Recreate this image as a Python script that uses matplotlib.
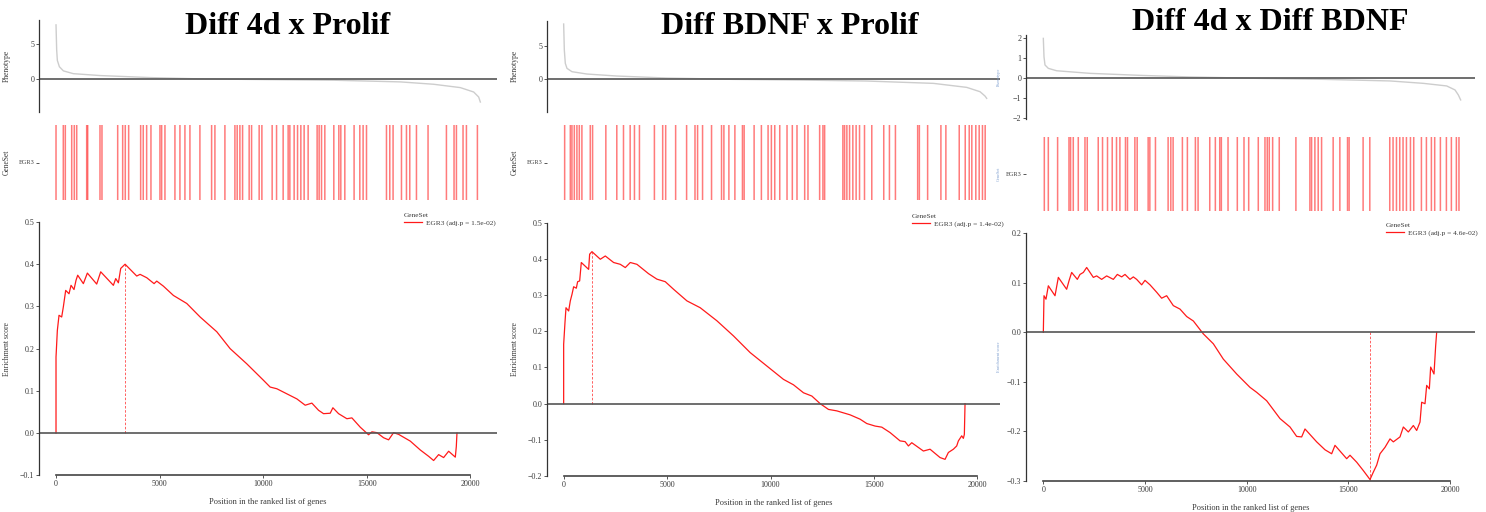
import matplotlib.pyplot as plt

W, H = 1486, 512
plt.rcParams['font.family'] = ['Liberation Serif', 'DejaVu Serif']

TEXT = '#3a3a3a'
RED = '#ff1a1a'

# ---- values ----
titles = ["Diff 4d x Prolif", "Diff BDNF x Prolif", "Diff 4d x Diff BDNF"]
gene_set = "EGR3"
adj_p = ["1.5e-02", "1.4e-02", "4.6e-02"]

# ranked list metric (phenotype)
rank_pos_1 = [0, 30, 61, 153, 336, 793, 2013, 4300, 6588, 9638, 12688, 15738, 17263, 18483, 19093, 19322, 19398]
rank_val_1 = [7.8, 4.2, 2.7, 1.8, 1.2, 0.8, 0.53, 0.24, 0.05, -0.05, -0.14, -0.38, -0.72, -1.2, -1.83, -2.55, -3.27]
rank_pos_2 = [0, 31, 76, 153, 382, 1070, 2445, 4737, 7793, 10849, 13905, 16961, 18489, 19100, 19329, 19406]
rank_val_2 = [8.3, 4.4, 2.4, 1.65, 1.15, 0.8, 0.5, 0.2, 0.0, -0.1, -0.25, -0.6, -1.2, -1.85, -2.5, -2.85]
rank_pos_3 = [0, 31, 77, 232, 618, 2163, 4481, 6798, 9888, 12978, 16068, 17613, 18695, 19081, 19235, 19343]
rank_val_3 = [2.0, 1.08, 0.67, 0.5, 0.38, 0.25, 0.15, 0.07, 0.0, -0.05, -0.13, -0.25, -0.38, -0.58, -0.83, -1.08]

# positions of gene-set members in the ranked list
hits_1 = [0, 333, 425, 717, 836, 946, 1402, 1448, 2010, 2101, 2819, 3047, 3166, 3321, 3869, 3988,
          4143, 4340, 4751, 4829, 4980, 5436, 5665, 5893, 6122, 6578, 7113, 7264, 7721, 8178, 8282,
          8406, 8529, 8830, 8940, 9287, 9411, 9881, 10082, 10384, 10612, 10690, 10886, 11042, 11192,
          11343, 11526, 11937, 12029, 12138, 12289, 12700, 12929, 13020, 13203, 13627, 13888, 14039,
          14194, 15107, 15258, 15409, 15793, 16021, 16172, 16478, 17008, 17848, 18196, 18305, 18607,
          18762, 19264]
hits_2 = [46, 306, 380, 489, 608, 718, 837, 1221, 1327, 1935, 2438, 2745, 3051, 3248, 3477, 4163,
          4543, 4680, 5137, 5640, 6025, 6144, 6372, 6784, 7242, 7351, 7580, 7855, 8202, 8280, 8737,
          9071, 9378, 9529, 9684, 9913, 10247, 10490, 10704, 11057, 11208, 11743, 11894, 11972, 12809,
          12887, 12992, 13116, 13266, 13417, 13573, 13801, 14135, 14684, 14945, 15220, 16240, 16318,
          16697, 17306, 17534, 18147, 18422, 18605, 18724, 18907, 19062, 19213, 19337]
hits_3 = [46, 231, 662, 1189, 1263, 1388, 1620, 1930, 2036, 2545, 2744, 2975, 3193, 3392, 3549, 3808,
          3901, 4243, 4350, 4859, 4937, 5197, 5784, 5909, 6016, 6446, 6677, 7048, 7173, 7714, 7973,
          8177, 8251, 8561, 8991, 9301, 9519, 9963, 10273, 10379, 10472, 10629, 10935, 11707, 12355,
          12434, 12587, 12740, 12897, 13434, 13744, 14100, 14174, 14822, 15132, 16057, 16210, 16368,
          16520, 16673, 16830, 17016, 17168, 17524, 17756, 17987, 18140, 18404, 18682, 18913, 19144,
          19265]

# running enrichment score
es_pos_1 = [0, 0, 64, 145, 274, 354, 467, 628, 725, 869, 966, 1047, 1320, 1513, 1964, 2157, 2769,
            2882, 3011, 3123, 3333, 3896, 4057, 4379, 4733, 4862, 5184, 5667, 6311, 6955, 7760, 8404,
            9209, 10014, 10336, 10658, 11302, 11624, 12027, 12349, 12671, 12912, 13234, 13363, 13637,
            14039, 14281, 14683, 15086, 15247, 15488, 15810, 16052, 16293, 16535, 17098, 17581, 17984,
            18225, 18467, 18708, 18950, 19272, 19320, 19352]
es_val_1 = [0, 0.180, 0.243, 0.279, 0.275, 0.299, 0.338, 0.330, 0.350, 0.340, 0.362, 0.374, 0.354,
            0.379, 0.353, 0.382, 0.350, 0.366, 0.356, 0.390, 0.400, 0.372, 0.376, 0.368, 0.354, 0.360,
            0.348, 0.326, 0.307, 0.275, 0.240, 0.200, 0.164, 0.125, 0.109, 0.105, 0.089, 0.081, 0.066,
            0.071, 0.054, 0.046, 0.047, 0.060, 0.046, 0.034, 0.036, 0.014, -0.004, 0.003, 0.001, -0.011,
            -0.016, 0.001, -0.003, -0.019, -0.040, -0.055, -0.065, -0.051, -0.058, -0.043, -0.057,
            -0.032, 0.0]
es_pos_2 = [0, 0, 64, 113, 242, 322, 403, 483, 612, 676, 773, 853, 1208, 1256, 1369, 1771, 2013, 2415,
            2737, 2979, 3220, 3542, 4106, 4508, 4911, 5313, 5957, 6601, 7406, 8211, 9016, 9821, 10626,
            11109, 11592, 11995, 12397, 12800, 13202, 13846, 14329, 14651, 15054, 15376, 15778, 16261,
            16503, 16664, 16825, 17388, 17710, 18193, 18435, 18596, 18837, 18998, 19079, 19240, 19320,
            19368, 19401]
es_val_2 = [0, 0.164, 0.224, 0.265, 0.256, 0.284, 0.302, 0.323, 0.319, 0.337, 0.339, 0.390, 0.371,
            0.413, 0.420, 0.399, 0.408, 0.390, 0.385, 0.376, 0.390, 0.385, 0.359, 0.344, 0.337, 0.316,
            0.284, 0.265, 0.229, 0.187, 0.141, 0.104, 0.067, 0.052, 0.030, 0.021, 0.000, -0.016, -0.020,
            -0.031, -0.043, -0.055, -0.062, -0.065, -0.080, -0.103, -0.105, -0.117, -0.108, -0.131,
            -0.126, -0.149, -0.154, -0.135, -0.126, -0.117, -0.103, -0.089, -0.096, -0.085, 0.0]
es_pos_3 = [0, 33, 131, 246, 574, 738, 1147, 1262, 1393, 1672, 1803, 1967, 2131, 2459, 2622, 2868,
            3114, 3442, 3639, 3852, 4016, 4261, 4425, 4589, 4835, 4999, 5245, 5573, 5818, 6064, 6392,
            6720, 7048, 7376, 7867, 8359, 8851, 9506, 10162, 10490, 10981, 11637, 12129, 12456, 12702,
            12866, 13440, 13850, 14177, 14341, 14915, 15079, 15407, 15734, 16062, 16226, 16390, 16554,
            16800, 17046, 17210, 17537, 17701, 17947, 18193, 18357, 18521, 18603, 18767, 18849, 18980,
            19045, 19209, 19291, 19340]
es_val_3 = [0, 0.074, 0.067, 0.094, 0.074, 0.111, 0.087, 0.104, 0.121, 0.107, 0.117, 0.121, 0.131,
            0.111, 0.114, 0.107, 0.114, 0.107, 0.117, 0.112, 0.117, 0.107, 0.112, 0.107, 0.096, 0.105,
            0.096, 0.081, 0.069, 0.074, 0.054, 0.047, 0.032, 0.023, -0.003, -0.023, -0.054, -0.084,
            -0.111, -0.121, -0.138, -0.174, -0.191, -0.210, -0.211, -0.195, -0.221, -0.237, -0.245,
            -0.228, -0.255, -0.248, -0.262, -0.279, -0.297, -0.282, -0.268, -0.245, -0.232, -0.215,
            -0.221, -0.211, -0.191, -0.201, -0.188, -0.198, -0.181, -0.141, -0.144, -0.107, -0.114,
            -0.070, -0.084, -0.027, 0.0]

# position of the leading-edge extreme (dashed marker)
peak_pos = [3333, 1369, 16062]
peak_val = [0.400, 0.420, -0.297]

rank_pos = [rank_pos_1, rank_pos_2, rank_pos_3]
rank_val = [rank_val_1, rank_val_2, rank_val_3]
hits = [hits_1, hits_2, hits_3]
es_pos = [es_pos_1, es_pos_2, es_pos_3]
es_val = [es_val_1, es_val_2, es_val_3]

# ---- layout in pixels (left, top, right, bottom) ----
LAYOUT = [
    dict(pheno=(39, 20, 497, 112), rug=(39, 125, 497, 200), es=(39, 222, 497, 475.3),
         top_xlim=(-778, 20160), es_xlim=(-821, 21284),
         pheno_ylim=(-4.7, 8.5), pheno_ticks=[0, 5], es_ylim=(-0.1, 0.5),
         title_xy=(288, 27), legend_xy=(404, 213), label_x=11, label_col=TEXT, label_fs=5.5),
    dict(pheno=(547, 20.7, 1000, 111.7), rug=(547, 125, 1000, 200), es=(547, 222.7, 1000, 476),
         top_xlim=(-764, 20017), es_xlim=(-805, 21091),
         pheno_ylim=(-4.85, 8.8), pheno_ticks=[0, 5], es_ylim=(-0.2, 0.5),
         title_xy=(790, 27), legend_xy=(912, 214), label_x=519, label_col=TEXT, label_fs=5.5),
    dict(pheno=(1026, 35, 1475, 119.3), rug=(1026, 137, 1475, 211), es=(1026, 233.3, 1475, 481),
         top_xlim=(-803, 20008), es_xlim=(-852, 21225),
         pheno_ylim=(-2.05, 2.17), pheno_ticks=[-2, -1, 0, 1, 2], es_ylim=(-0.3, 0.2),
         title_xy=(1270, 22), legend_xy=(1386, 223), label_x=1001, label_col='#7f9fd0', label_fs=3.2),
]


def fig_box(l, t, r, b):
    return [l / W, 1 - b / H, (r - l) / W, (b - t) / H]


def style_ticks(ax):
    ax.tick_params(labelsize=5.8, length=2, width=0.6, colors=TEXT, pad=1.5)


fig = plt.figure(figsize=(W / 100, H / 100), dpi=100)

for i, lay in enumerate(LAYOUT):
    # ranked-list metric
    ax = fig.add_axes(fig_box(*lay['pheno']))
    ax.plot(rank_pos[i], rank_val[i], color='#cdcdcd', lw=1.0)
    ax.axhline(0, color='#555555', lw=1.2)
    ax.set_xlim(*lay['top_xlim'])
    ax.set_ylim(*lay['pheno_ylim'])
    ax.set_xticks([])
    ax.set_yticks(lay['pheno_ticks'])
    for s in ['top', 'right', 'bottom']:
        ax.spines[s].set_visible(False)
    ax.spines['left'].set_color('#333333')
    ax.spines['left'].set_linewidth(0.9)
    style_ticks(ax)
    ax.set_ylabel("Phenotype", fontsize=lay['label_fs'], color=lay['label_col'])
    ax.yaxis.set_label_coords(lay['label_x'] / W, 1 - (lay['pheno'][1] + lay['pheno'][3]) / 2 / H,
                              transform=fig.transFigure)

    # gene-set rug
    ax = fig.add_axes(fig_box(*lay['rug']))
    rug = ax.vlines(hits[i], 0, 1, color='#ff2a2a', lw=1.1, alpha=0.62)
    rug.set_snap(False)
    ax.set_xlim(*lay['top_xlim'])
    ax.set_ylim(0, 1)
    ax.set_xticks([])
    ax.set_yticks([0.5])
    ax.set_yticklabels([gene_set])
    for s in ax.spines.values():
        s.set_visible(False)
    ax.tick_params(labelsize=4.5, length=2, width=0.6, colors=TEXT, pad=1.5)
    ax.set_ylabel("GeneSet", fontsize=lay['label_fs'], color=lay['label_col'])
    ax.yaxis.set_label_coords(lay['label_x'] / W, 1 - (lay['rug'][1] + lay['rug'][3]) / 2 / H,
                              transform=fig.transFigure)

    # running enrichment score
    ax = fig.add_axes(fig_box(*lay['es']))
    line, = ax.plot(es_pos[i], es_val[i], color=RED, lw=0.9)
    ax.vlines(peak_pos[i], 0, peak_val[i], color=RED, lw=0.6, linestyles=(0, (3, 2)), alpha=0.8)
    ax.axhline(0, color='#555555', lw=1.2)
    ax.set_xlim(*lay['es_xlim'])
    ax.set_ylim(*lay['es_ylim'])
    ax.set_xticks([0, 5000, 10000, 15000, 20000])
    lo, hi = lay['es_ylim']
    ticks = [round(lo + 0.1 * k, 1) for k in range(int(round((hi - lo) / 0.1)) + 1)]
    ax.set_yticks(ticks)
    ax.set_yticklabels([f"{t:.1f}".replace('-', '\u2212') for t in ticks])
    for s in ['top', 'right']:
        ax.spines[s].set_visible(False)
    ax.spines['left'].set_color('#333333')
    ax.spines['left'].set_linewidth(0.9)
    ax.spines['bottom'].set_color('#444444')
    ax.spines['bottom'].set_linewidth(1.2)
    ax.spines['bottom'].set_bounds(0, 20000)
    style_ticks(ax)
    ax.set_xlabel("Position in the ranked list of genes", fontsize=6, color=TEXT, labelpad=7)
    ax.set_ylabel("Enrichment score", fontsize=lay['label_fs'], color=lay['label_col'])
    ax.yaxis.set_label_coords(lay['label_x'] / W, 1 - (lay['es'][1] + lay['es'][3]) / 2 / H,
                              transform=fig.transFigure)

    lx, ly = lay['legend_xy']
    leg = ax.legend([line], [f"{gene_set} (adj.p = {adj_p[i]})"], title="GeneSet",
                    loc='upper left', bbox_to_anchor=(lx / W, 1 - ly / H),
                    bbox_transform=fig.transFigure, frameon=False, fontsize=5.3,
                    title_fontsize=5.3, handlelength=2.4, handletextpad=0.6,
                    borderpad=0, borderaxespad=0, labelspacing=0.2)
    leg._legend_box.align = 'left'
    for t in leg.get_texts():
        t.set_color(TEXT)
    leg.get_title().set_color(TEXT)

    tx, ty = lay['title_xy']
    fig.text(tx / W, 1 - ty / H, titles[i], ha='center', va='center',
             fontsize=23, fontweight='bold', color='black')

fig.savefig('out.png', dpi=100)
